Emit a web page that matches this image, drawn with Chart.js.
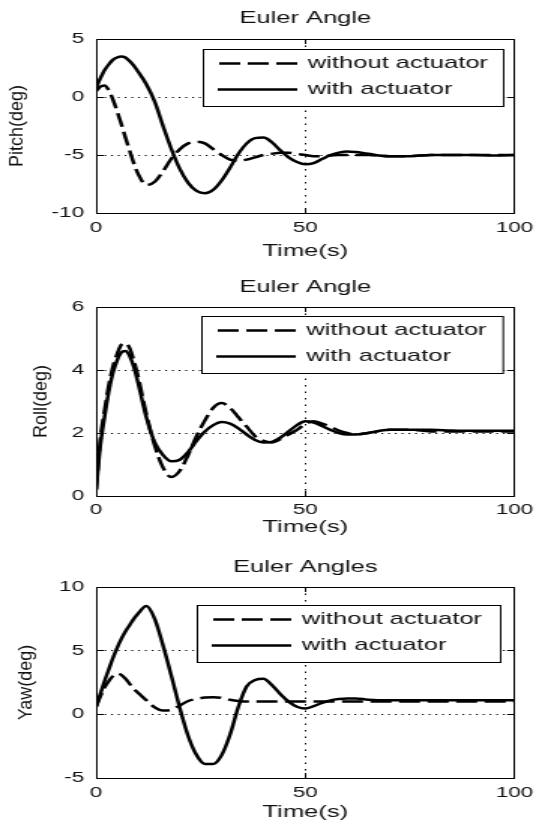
<!DOCTYPE html>
<html>
<head>
<meta charset="utf-8">
<title>Euler Angle</title>
<script src="https://cdn.jsdelivr.net/npm/chart.js@4.4.1/dist/chart.umd.min.js"></script>
<style>
    html, body { margin: 0; padding: 0; background: #fff; }
    .fig { position: relative; width: 536px; height: 828px; overflow: hidden; }
    .fig canvas { position: absolute; left: 0; }
</style>
</head>
<body>
<div class="fig">
    <canvas id="pitchChart" width="357" height="270" style="top:0;width:536px;height:270px"></canvas>
    <canvas id="rollChart" width="357" height="280" style="top:270px;width:536px;height:280px"></canvas>
    <canvas id="yawChart" width="357" height="278" style="top:550px;width:536px;height:278px"></canvas>
</div>
<script>
// data
const time = [0, 1, 2, 3, 4, 5, 6, 7, 8, 9, 10,
    12, 14, 16, 18, 20, 22, 24, 26, 28, 30, 32, 34, 36, 38, 40, 42, 44, 46, 48, 50, 52, 54, 56, 58, 60, 62,
    65, 70, 75, 80, 85, 90, 95, 100]

const pitchWithout = [0.5, 0.9, 1.0, 0.6, -0.2, -1.2, -2.3, -3.5, -4.6, -5.7, -6.6,
    -7.6, -7.3, -6.4, -5.3, -4.5, -4.0, -3.85, -4.0, -4.5, -5.0, -5.4, -5.5, -5.4, -5.2, -5.0, -4.9, -4.8, -4.8, -4.9, -5.0, -5.1, -5.1, -5.05, -5.0, -5.0, -5.0,
    -5.0, -5.1, -5.1, -5.0, -5.0, -5.0, -5.0, -5.0]
const pitchWith = [0.8, 1.6, 2.3, 2.8, 3.2, 3.4, 3.5, 3.4, 3.1, 2.7, 2.2,
    1.1, -0.4, -2.5, -4.5, -6.2, -7.4, -8.1, -8.3, -8.0, -7.2, -6.1, -4.9, -4.0, -3.55, -3.5, -3.9, -4.6, -5.2, -5.6, -5.8, -5.7, -5.35, -5.0, -4.8, -4.7, -4.75,
    -4.9, -5.1, -5.1, -5.0, -5.0, -5.0, -5.05, -5.0]

const rollWithout = [0.2, 1.8, 2.7, 3.5, 4.1, 4.5, 4.8, 4.85, 4.7, 4.3, 3.8,
    2.6, 1.6, 0.9, 0.6, 0.8, 1.3, 1.9, 2.4, 2.8, 2.95, 2.8, 2.5, 2.2, 1.9, 1.75, 1.7, 1.8, 1.95, 2.1, 2.28, 2.37, 2.3, 2.2, 2.08, 2.0, 1.95,
    2.0, 2.1, 2.1, 2.05, 2.05, 2.05, 2.05, 2.05]
const rollWith = [0.2, 1.6, 2.5, 3.3, 3.9, 4.3, 4.55, 4.6, 4.45, 4.1, 3.6,
    2.5, 1.7, 1.3, 1.1, 1.15, 1.4, 1.75, 2.05, 2.25, 2.35, 2.3, 2.15, 1.95, 1.78, 1.7, 1.72, 1.85, 2.05, 2.25, 2.37, 2.33, 2.22, 2.1, 2.0, 1.95, 1.95,
    2.0, 2.1, 2.1, 2.1, 2.08, 2.07, 2.07, 2.07]

const yawWithout = [0.6, 1.4, 2.1, 2.6, 3.0, 3.2, 3.1, 2.8, 2.4, 2.0, 1.7,
    1.1, 0.55, 0.3, 0.35, 0.7, 1.05, 1.2, 1.32, 1.35, 1.3, 1.15, 1.05, 1.0, 1.0, 1.0, 1.0, 1.0, 1.0, 1.0, 1.0, 1.0, 1.0, 1.0, 1.0, 1.0, 1.0,
    1.0, 1.0, 1.0, 1.0, 1.0, 1.0, 1.0, 1.0]
const yawWith = [0.6, 1.6, 2.6, 3.5, 4.4, 5.2, 5.9, 6.5, 7.0, 7.5, 7.9,
    8.5, 7.5, 5.4, 3.0, 0.5, -1.7, -3.2, -3.9, -3.9, -3.2, -1.6, 0.6, 2.2, 2.7, 2.8, 2.3, 1.6, 1.0, 0.6, 0.45, 0.65, 0.9, 1.1, 1.2, 1.25, 1.25,
    1.15, 1.1, 1.1, 1.1, 1.1, 1.1, 1.1, 1.1]

const pitchTicks = [-10, 5, 5]   // min, max, step
const rollTicks = [0, 6, 2]
const yawTicks = [-5, 10, 5]

// the canvases are drawn narrow and stretched by css, like the original figure
const SX = 536 / 357
const FONT = '"Liberation Sans", Arial, sans-serif'
Chart.defaults.font.family = FONT
Chart.defaults.color = '#111'

// matlab style legend box inside the axes + ylabel
const boxLegend = {
    id: 'boxLegend',
    afterDatasetsDraw(chart, args, opts) {
        const ctx = chart.ctx
        const area = chart.chartArea
        const left = Math.round(area.right - opts.right - opts.width)
        const top = Math.round(area.top + opts.top)
        ctx.save()
        ctx.fillStyle = '#fff'
        ctx.fillRect(left, top, opts.width, 57)
        ctx.strokeStyle = '#000'
        ctx.lineWidth = 1
        ctx.strokeRect(left + 0.5, top + 0.5, opts.width, 57)
        ctx.font = '17px ' + FONT
        ctx.textBaseline = 'middle'
        chart.data.datasets.forEach((ds, i) => {
            const y = top + 14.5 + i * 26
            ctx.strokeStyle = ds.borderColor
            ctx.lineWidth = ds.borderWidth
            ctx.setLineDash(ds.borderDash || [])
            ctx.beginPath()
            ctx.moveTo(left + 63, y)
            ctx.lineTo(left + 10, y)
            ctx.stroke()
            ctx.setLineDash([])
            ctx.fillStyle = '#111'
            ctx.fillText(ds.label, left + 70, y)
        })
        ctx.restore()
    },
    afterDraw(chart, args, opts) {
        // squeeze the rotated label back so the css stretch doesn't fatten it
        const ctx = chart.ctx
        const area = chart.chartArea
        ctx.save()
        ctx.translate(opts.labelX, (area.top + area.bottom) / 2)
        ctx.scale(1 / SX, 1)
        ctx.rotate(-Math.PI / 2)
        ctx.font = '18px ' + FONT
        ctx.fillStyle = '#111'
        ctx.textAlign = 'center'
        ctx.textBaseline = 'middle'
        ctx.fillText(opts.label, 0, 0)
        ctx.restore()
    }
}

function eulerChart(id, o) {
    const [yMin, yMax, yStep] = o.yTicks
    return new Chart(document.getElementById(id), {
        type: 'line',
        data: {
            labels: time,
            datasets: [{
                label: 'without actuator',
                data: o.without,
                borderColor: '#000',
                borderWidth: 2.5,
                borderDash: [14, 5],
                order: 1,
            },
            {
                label: 'with actuator',
                data: o.withAct,
                borderColor: '#000',
                borderWidth: 2.5,
                order: 0,
            }],
        },
        options: {
            responsive: false,
            devicePixelRatio: 1,
            animation: false,
            events: [],
            layout: {
                padding: { left: 0, right: 14.3, top: 0, bottom: 0 }
            },
            elements: {
                point: { radius: 0 },
                line: { cubicInterpolationMode: 'monotone' }
            },
            scales: {
                x: {
                    type: 'linear',
                    min: 0,
                    max: 100,
                    ticks: { stepSize: 50, padding: o.xTickPad, font: { size: 15 } },
                    grid: { color: '#000', tickLength: -5 },
                    border: { color: '#000', dash: [1.5, 5] },
                    title: {
                        display: true,
                        text: 'Time(s)',
                        font: { size: 17 },
                        padding: { top: 0, bottom: o.xTitlePad }
                    },
                    afterFit: s => {
                        s.height = o.xHeight
                        // the "100" label may hang over the right edge, as in matlab
                        s.paddingLeft = 0
                        s.paddingRight = 0
                    }
                },
                x2: {
                    type: 'linear',
                    position: 'top',
                    min: 0,
                    max: 100,
                    ticks: { display: false, stepSize: 50 },
                    grid: { color: '#000', tickLength: -5, drawOnChartArea: false },
                    border: { color: '#000' },
                    afterFit: s => { s.height = 0 }
                },
                y: {
                    min: yMin,
                    max: yMax,
                    ticks: { stepSize: yStep, padding: 13, font: { size: 15 } },
                    grid: { color: '#000', tickLength: -5 },
                    border: { color: '#000', dash: [1.2, 3.3] },
                    afterFit: s => { s.width = 64 }
                },
                y2: {
                    position: 'right',
                    min: yMin,
                    max: yMax,
                    ticks: { display: false, stepSize: yStep },
                    grid: { color: '#000', tickLength: -5, drawOnChartArea: false },
                    border: { color: '#000' },
                    afterFit: s => { s.width = 0 }
                }
            },
            plugins: {
                legend: { display: false },
                tooltip: { enabled: false },
                title: {
                    display: true,
                    text: o.title,
                    fullSize: false,
                    font: { size: 17, weight: 'normal' },
                    padding: { top: o.titleTop, bottom: o.titleBottom }
                },
                boxLegend: {
                    top: o.legendTop,
                    right: o.legendRight,
                    width: o.legendWidth,
                    label: o.ylabel,
                    labelX: o.labelX
                }
            }
        },
        plugins: [boxLegend]
    })
}

eulerChart('pitchChart', {
    title: 'Euler Angle', ylabel: 'Pitch(deg)', without: pitchWithout, withAct: pitchWith, yTicks: pitchTicks,
    titleTop: 7.8, titleBottom: 10.8, xHeight: 57, xTickPad: 11.3, xTitlePad: 8.1,
    legendTop: 10, legendRight: 8, legendWidth: 200, labelX: 11.3
})

eulerChart('rollChart', {
    title: 'Euler Angle', ylabel: 'Roll(deg)', without: rollWithout, withAct: rollWith, yTicks: rollTicks,
    titleTop: 6.8, titleBottom: 9.8, xHeight: 54, xTickPad: 10, xTitlePad: 12.8,
    legendTop: 9.3, legendRight: 8, legendWidth: 200.7, labelX: 28
})

eulerChart('yawChart', {
    title: 'Euler Angles', ylabel: 'Yaw(deg)', without: yawWithout, withAct: yawWith, yTicks: yawTicks,
    titleTop: 7.3, titleBottom: 9.3, xHeight: 50, xTickPad: 11, xTitlePad: 5.8,
    legendTop: 18, legendRight: 10, legendWidth: 202, labelX: 17.5
})
</script>
</body>
</html>
